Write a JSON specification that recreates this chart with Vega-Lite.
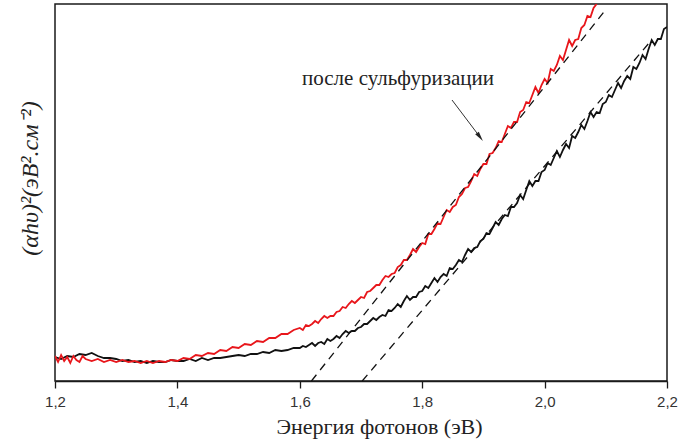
{
  "$schema": "https://vega.github.io/schema/vega-lite/v6.json",
  "width": 612,
  "height": 377,
  "autosize": {"type": "none"},
  "padding": {"left": 55, "top": 4, "right": 25, "bottom": 58},
  "background": "white",
  "config": {
    "view": {"stroke": "#1a1a1a", "strokeWidth": 1.5},
    "axis": {"grid": false}
  },
  "datasets": {
    "black": [
      {"energy":1.20,"signal":24},{"energy":1.21,"signal":22},{"energy":1.22,"signal":25},{"energy":1.23,"signal":24},{"energy":1.24,"signal":27},
      {"energy":1.25,"signal":26},{"energy":1.26,"signal":28},{"energy":1.27,"signal":25},{"energy":1.28,"signal":23},{"energy":1.29,"signal":23},
      {"energy":1.30,"signal":22},{"energy":1.31,"signal":20},{"energy":1.32,"signal":21},{"energy":1.33,"signal":19},{"energy":1.34,"signal":20},
      {"energy":1.35,"signal":18},{"energy":1.36,"signal":20},{"energy":1.37,"signal":19},{"energy":1.38,"signal":19},{"energy":1.39,"signal":21},
      {"energy":1.40,"signal":20},{"energy":1.41,"signal":20},{"energy":1.42,"signal":22},{"energy":1.43,"signal":20},{"energy":1.44,"signal":23},
      {"energy":1.45,"signal":21},{"energy":1.46,"signal":23},{"energy":1.47,"signal":23},{"energy":1.48,"signal":24},{"energy":1.49,"signal":25},
      {"energy":1.50,"signal":26},{"energy":1.51,"signal":25},{"energy":1.52,"signal":27},{"energy":1.53,"signal":27},{"energy":1.54,"signal":29},
      {"energy":1.55,"signal":28},{"energy":1.56,"signal":31},{"energy":1.57,"signal":30},{"energy":1.58,"signal":31},{"energy":1.59,"signal":33},
      {"energy":1.600,"signal":33},{"energy":1.605,"signal":35},{"energy":1.610,"signal":34},{"energy":1.615,"signal":36},{"energy":1.620,"signal":38},
      {"energy":1.625,"signal":35},{"energy":1.630,"signal":38},{"energy":1.635,"signal":39},{"energy":1.640,"signal":37},{"energy":1.645,"signal":42},
      {"energy":1.650,"signal":40},{"energy":1.655,"signal":42},{"energy":1.660,"signal":45},{"energy":1.665,"signal":43},{"energy":1.670,"signal":47},
      {"energy":1.675,"signal":50},{"energy":1.680,"signal":48},{"energy":1.685,"signal":50},{"energy":1.690,"signal":50},{"energy":1.695,"signal":53},
      {"energy":1.700,"signal":54},{"energy":1.705,"signal":57},{"energy":1.710,"signal":57},{"energy":1.715,"signal":60},{"energy":1.720,"signal":63},
      {"energy":1.725,"signal":61},{"energy":1.730,"signal":64},{"energy":1.735,"signal":66},{"energy":1.740,"signal":65},{"energy":1.745,"signal":71},
      {"energy":1.750,"signal":70},{"energy":1.755,"signal":73},{"energy":1.760,"signal":77},{"energy":1.765,"signal":74},{"energy":1.770,"signal":80},
      {"energy":1.775,"signal":85},{"energy":1.780,"signal":81},{"energy":1.785,"signal":84},{"energy":1.790,"signal":84},{"energy":1.795,"signal":89},
      {"energy":1.800,"signal":90},{"energy":1.805,"signal":95},{"energy":1.810,"signal":93},{"energy":1.815,"signal":98},{"energy":1.820,"signal":103},
      {"energy":1.825,"signal":99},{"energy":1.830,"signal":104},{"energy":1.835,"signal":107},{"energy":1.840,"signal":105},{"energy":1.845,"signal":113},
      {"energy":1.850,"signal":112},{"energy":1.855,"signal":116},{"energy":1.860,"signal":121},{"energy":1.865,"signal":119},{"energy":1.870,"signal":126},
      {"energy":1.875,"signal":132},{"energy":1.880,"signal":129},{"energy":1.885,"signal":133},{"energy":1.890,"signal":134},{"energy":1.895,"signal":140},
      {"energy":1.900,"signal":142},{"energy":1.905,"signal":148},{"energy":1.910,"signal":147},{"energy":1.915,"signal":153},{"energy":1.920,"signal":159},
      {"energy":1.925,"signal":156},{"energy":1.930,"signal":162},{"energy":1.935,"signal":166},{"energy":1.940,"signal":165},{"energy":1.945,"signal":174},
      {"energy":1.950,"signal":174},{"energy":1.955,"signal":178},{"energy":1.960,"signal":186},{"energy":1.965,"signal":182},{"energy":1.970,"signal":191},
      {"energy":1.975,"signal":200},{"energy":1.980,"signal":195},{"energy":1.985,"signal":200},{"energy":1.990,"signal":200},{"energy":1.995,"signal":209},
      {"energy":2.000,"signal":211},{"energy":2.005,"signal":218},{"energy":2.010,"signal":216},{"energy":2.015,"signal":223},{"energy":2.020,"signal":230},
      {"energy":2.025,"signal":224},{"energy":2.030,"signal":231},{"energy":2.035,"signal":237},{"energy":2.040,"signal":233},{"energy":2.045,"signal":245},
      {"energy":2.050,"signal":243},{"energy":2.055,"signal":249},{"energy":2.060,"signal":256},{"energy":2.065,"signal":252},{"energy":2.070,"signal":260},
      {"energy":2.075,"signal":269},{"energy":2.080,"signal":264},{"energy":2.085,"signal":269},{"energy":2.090,"signal":268},{"energy":2.095,"signal":277},
      {"energy":2.100,"signal":279},{"energy":2.105,"signal":286},{"energy":2.110,"signal":284},{"energy":2.115,"signal":291},{"energy":2.120,"signal":298},
      {"energy":2.125,"signal":293},{"energy":2.130,"signal":300},{"energy":2.135,"signal":305},{"energy":2.140,"signal":302},{"energy":2.145,"signal":314},
      {"energy":2.150,"signal":312},{"energy":2.155,"signal":318},{"energy":2.160,"signal":326},{"energy":2.165,"signal":322},{"energy":2.170,"signal":332},
      {"energy":2.175,"signal":341},{"energy":2.180,"signal":336},{"energy":2.185,"signal":342},{"energy":2.190,"signal":342},{"energy":2.195,"signal":352},
      {"energy":2.200,"signal":354}
    ],
    "red": [
      {"energy":1.200,"signal":25},{"energy":1.205,"signal":19},{"energy":1.210,"signal":26},{"energy":1.215,"signal":20},{"energy":1.220,"signal":24},
      {"energy":1.225,"signal":18},{"energy":1.230,"signal":25},{"energy":1.235,"signal":21},{"energy":1.240,"signal":19},{"energy":1.245,"signal":25},
      {"energy":1.25,"signal":22},{"energy":1.26,"signal":20},{"energy":1.27,"signal":22},{"energy":1.28,"signal":19},{"energy":1.29,"signal":21},
      {"energy":1.30,"signal":19},{"energy":1.31,"signal":21},{"energy":1.32,"signal":19},{"energy":1.33,"signal":20},{"energy":1.34,"signal":18},
      {"energy":1.35,"signal":20},{"energy":1.36,"signal":18},{"energy":1.37,"signal":20},{"energy":1.38,"signal":19},{"energy":1.39,"signal":21},
      {"energy":1.40,"signal":20},{"energy":1.41,"signal":23},{"energy":1.42,"signal":22},{"energy":1.43,"signal":26},{"energy":1.44,"signal":25},
      {"energy":1.45,"signal":28},{"energy":1.46,"signal":27},{"energy":1.47,"signal":31},{"energy":1.48,"signal":30},{"energy":1.49,"signal":34},
      {"energy":1.50,"signal":33},{"energy":1.51,"signal":37},{"energy":1.52,"signal":36},{"energy":1.53,"signal":40},{"energy":1.54,"signal":39},
      {"energy":1.55,"signal":43},{"energy":1.56,"signal":43},{"energy":1.57,"signal":47},{"energy":1.58,"signal":47},{"energy":1.59,"signal":51},
      {"energy":1.600,"signal":53},{"energy":1.605,"signal":51},{"energy":1.610,"signal":56},{"energy":1.615,"signal":55},{"energy":1.620,"signal":57},
      {"energy":1.625,"signal":60},{"energy":1.630,"signal":58},{"energy":1.635,"signal":62},{"energy":1.640,"signal":65},{"energy":1.645,"signal":63},
      {"energy":1.650,"signal":65},{"energy":1.655,"signal":65},{"energy":1.660,"signal":69},{"energy":1.665,"signal":70},{"energy":1.670,"signal":74},
      {"energy":1.675,"signal":73},{"energy":1.680,"signal":77},{"energy":1.685,"signal":80},{"energy":1.690,"signal":78},{"energy":1.695,"signal":81},
      {"energy":1.700,"signal":84},{"energy":1.705,"signal":83},{"energy":1.710,"signal":89},{"energy":1.715,"signal":90},{"energy":1.720,"signal":93},
      {"energy":1.725,"signal":96},{"energy":1.730,"signal":96},{"energy":1.735,"signal":101},{"energy":1.740,"signal":105},{"energy":1.745,"signal":104},
      {"energy":1.750,"signal":107},{"energy":1.755,"signal":108},{"energy":1.760,"signal":114},{"energy":1.765,"signal":116},{"energy":1.770,"signal":121},
      {"energy":1.775,"signal":121},{"energy":1.780,"signal":126},{"energy":1.785,"signal":132},{"energy":1.790,"signal":129},{"energy":1.795,"signal":134},
      {"energy":1.800,"signal":138},{"energy":1.805,"signal":137},{"energy":1.810,"signal":147},{"energy":1.815,"signal":147},{"energy":1.820,"signal":152},
      {"energy":1.825,"signal":158},{"energy":1.830,"signal":157},{"energy":1.835,"signal":164},{"energy":1.840,"signal":171},{"energy":1.845,"signal":169},
      {"energy":1.850,"signal":174},{"energy":1.855,"signal":176},{"energy":1.860,"signal":184},{"energy":1.865,"signal":187},{"energy":1.870,"signal":193},
      {"energy":1.875,"signal":194},{"energy":1.880,"signal":200},{"energy":1.885,"signal":207},{"energy":1.890,"signal":205},{"energy":1.895,"signal":212},
      {"energy":1.900,"signal":217},{"energy":1.905,"signal":217},{"energy":1.910,"signal":227},{"energy":1.915,"signal":228},{"energy":1.920,"signal":233},
      {"energy":1.925,"signal":240},{"energy":1.930,"signal":239},{"energy":1.935,"signal":247},{"energy":1.940,"signal":255},{"energy":1.945,"signal":253},
      {"energy":1.950,"signal":259},{"energy":1.955,"signal":259},{"energy":1.960,"signal":269},{"energy":1.965,"signal":271},{"energy":1.970,"signal":279},
      {"energy":1.975,"signal":278},{"energy":1.980,"signal":286},{"energy":1.985,"signal":294},{"energy":1.990,"signal":288},{"energy":1.995,"signal":296},
      {"energy":2.000,"signal":302},{"energy":2.005,"signal":298},{"energy":2.010,"signal":312},{"energy":2.015,"signal":310},{"energy":2.020,"signal":316},
      {"energy":2.025,"signal":325},{"energy":2.030,"signal":321},{"energy":2.035,"signal":331},{"energy":2.040,"signal":341},{"energy":2.045,"signal":335},
      {"energy":2.050,"signal":341},{"energy":2.055,"signal":342},{"energy":2.060,"signal":353},{"energy":2.065,"signal":356},{"energy":2.070,"signal":365},
      {"energy":2.075,"signal":364},{"energy":2.080,"signal":373},{"energy":2.085,"signal":377}
    ],
    "tangents": [
      {"line":"after","energy":1.619,"signal":0},{"line":"after","energy":2.102,"signal":373},
      {"line":"before","energy":1.702,"signal":0},{"line":"before","energy":2.172,"signal":339}
    ],
    "note": [{"label":"после сульфуризации","energy":1.7605,"signal":302}],
    "arrow": [{"energy":1.8487,"signal":281,"energy2":1.8944,"signal2":244}]
  },
  "layer": [
    {
      "data": {"name": "black"},
      "mark": {"type": "line", "color": "#111111", "strokeWidth": 1.8, "clip": true},
      "encoding": {
        "x": {
          "field": "energy", "type": "quantitative",
          "scale": {"domain": [1.2, 2.2], "nice": false, "zero": false},
          "axis": {
            "values": [1.2, 1.4, 1.6, 1.8, 2.0, 2.2],
            "labelExpr": "replace(format(datum.value, '.1f'), '.', ',')",
            "labelFont": "Liberation Sans", "labelFontSize": 15, "labelColor": "#333333",
            "labelFlush": false, "labelOverlap": false, "labelPadding": 6,
            "tickSize": 7, "tickColor": "#1a1a1a", "tickWidth": 1.3,
            "domainColor": "#1a1a1a", "domainWidth": 1.5,
            "title": "Энергия фотонов (эВ)",
            "titleFont": "Liberation Serif", "titleFontSize": 22, "titleFontWeight": "normal",
            "titleColor": "#222222", "titleX": 324, "titleY": 52, "titleBaseline": "alphabetic", "titleAlign": "center"
          }
        },
        "y": {
          "field": "signal", "type": "quantitative",
          "scale": {"domain": [0, 377], "nice": false},
          "axis": {
            "labels": false, "ticks": false, "domain": false,
            "title": "(αhυ)²(эВ².см⁻²)",
            "titleFont": "Liberation Serif", "titleFontSize": 24, "titleFontStyle": "italic", "titleFontWeight": "normal",
            "titleColor": "#222222", "titleAngle": -90, "titleX": -25, "titleY": 174,
            "titleAlign": "center", "titleBaseline": "middle"
          }
        }
      }
    },
    {
      "data": {"name": "red"},
      "mark": {"type": "line", "color": "#e8161b", "strokeWidth": 1.8, "clip": true},
      "encoding": {
        "x": {"field": "energy", "type": "quantitative"},
        "y": {"field": "signal", "type": "quantitative"}
      }
    },
    {
      "data": {"name": "tangents"},
      "mark": {"type": "line", "color": "#111111", "strokeWidth": 1.3, "strokeDash": [8, 6]},
      "encoding": {
        "x": {"field": "energy", "type": "quantitative"},
        "y": {"field": "signal", "type": "quantitative"},
        "detail": {"field": "line"}
      }
    },
    {
      "data": {"name": "note"},
      "mark": {"type": "text", "font": "Liberation Serif", "fontSize": 21, "color": "#222222", "align": "center", "baseline": "middle"},
      "encoding": {
        "x": {"field": "energy", "type": "quantitative"},
        "y": {"field": "signal", "type": "quantitative"},
        "text": {"field": "label"}
      }
    },
    {
      "data": {"name": "arrow"},
      "mark": {"type": "rule", "color": "#333333", "strokeWidth": 1},
      "encoding": {
        "x": {"field": "energy", "type": "quantitative"},
        "y": {"field": "signal", "type": "quantitative"},
        "x2": {"field": "energy2"},
        "y2": {"field": "signal2"}
      }
    },
    {
      "data": {"name": "arrow"},
      "mark": {"type": "point", "shape": "M0,-1L0.45,1L-0.45,1Z", "size": 100, "filled": true, "color": "#222222", "opacity": 1, "angle": 144},
      "encoding": {
        "x": {"field": "energy2", "type": "quantitative"},
        "y": {"field": "signal2", "type": "quantitative"}
      }
    }
  ]
}
